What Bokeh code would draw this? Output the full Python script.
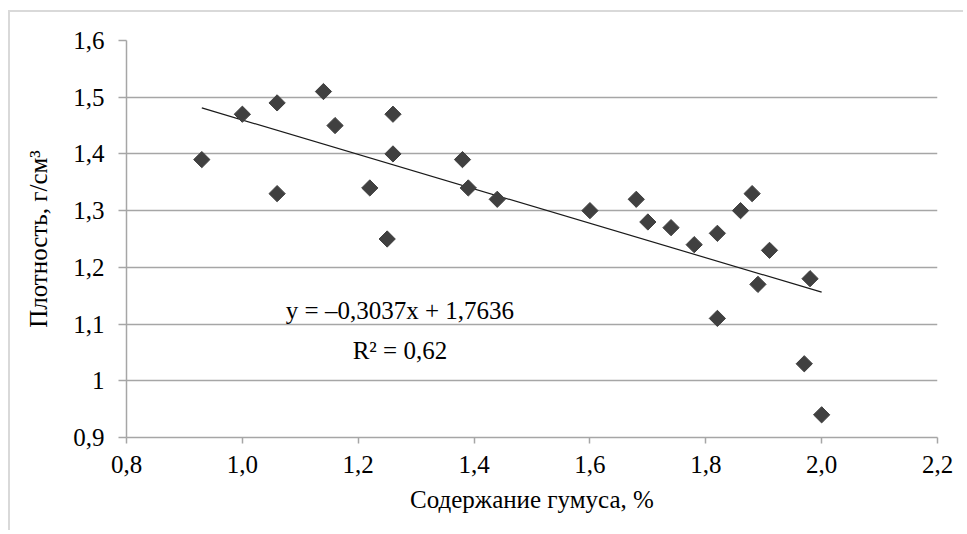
import math
from bokeh.plotting import figure
from bokeh.models import FixedTicker, Label, ColumnDataSource
from bokeh.embed import file_html
from bokeh.resources import INLINE

# ---- data ----
humus = [0.93, 1.00, 1.06, 1.06, 1.14, 1.16, 1.22, 1.25, 1.26, 1.26, 1.38, 1.39, 1.44,
         1.60, 1.68, 1.70, 1.74, 1.78, 1.82, 1.82, 1.86, 1.88, 1.89, 1.91, 1.97, 1.98, 2.00]
density = [1.39, 1.47, 1.49, 1.33, 1.51, 1.45, 1.34, 1.25, 1.47, 1.40, 1.39, 1.34, 1.32,
           1.30, 1.32, 1.28, 1.27, 1.24, 1.26, 1.11, 1.30, 1.33, 1.17, 1.23, 1.03, 1.18, 0.94]
slope = -0.3037
intercept = 1.7636
x_ticks = [0.8, 1.0, 1.2, 1.4, 1.6, 1.8, 2.0, 2.2]
x_tick_labels = ["0,8", "1,0", "1,2", "1,4", "1,6", "1,8", "2,0", "2,2"]
y_ticks = [0.9, 1.0, 1.1, 1.2, 1.3, 1.4, 1.5, 1.6]
y_tick_labels = ["0,9", "1", "1,1", "1,2", "1,3", "1,4", "1,5", "1,6"]
equation_text = "y = \u20130,3037x + 1,7636"
r2_text = "R\u00b2 = 0,62"
x_title = "Содержание гумуса, %"
y_title = "Плотность, г/см\u00b3"

FONT = "Liberation Serif"
FS = "25px"
GRID = "#a6a6a6"

p = figure(width=955, height=520, x_range=(0.8, 2.2), y_range=(0.9, 1.6),
           output_backend="svg", toolbar_location=None,
           min_border_left=116, min_border_right=28, min_border_top=28, min_border_bottom=95)
p.outline_line_color = None
p.background_fill_color = "white"
p.border_fill_color = "white"
p.styles = {"margin-left": "8px", "margin-top": "10px",
            "border-left": "2px solid #d9d9d9", "border-top": "2px solid #d9d9d9"}

p.xgrid.visible = False
p.ygrid.grid_line_color = GRID
p.ygrid.grid_line_width = 1.5
p.ygrid.ticker = FixedTicker(ticks=y_ticks)

p.xaxis.ticker = FixedTicker(ticks=x_ticks)
p.yaxis.ticker = FixedTicker(ticks=y_ticks)
p.xaxis.major_label_overrides = {t: l for t, l in zip(x_ticks, x_tick_labels)}
p.yaxis.major_label_overrides = {t: l for t, l in zip(y_ticks, y_tick_labels)}

for ax in (p.xaxis, p.yaxis):
    ax.axis_line_color = GRID
    ax.axis_line_width = 1.5
    ax.major_tick_line_color = GRID
    ax.major_tick_line_width = 1.5
    ax.minor_tick_line_color = None
    ax.major_tick_in = 0
    ax.major_label_text_font = FONT
    ax.major_label_text_font_size = FS
    ax.major_label_text_color = "black"
    ax.axis_label_text_font = FONT
    ax.axis_label_text_font_size = FS
    ax.axis_label_text_font_style = "normal"
    ax.axis_label_text_color = "black"

p.xaxis.major_tick_out = 6
p.yaxis.major_tick_out = 8
p.xaxis.major_label_standoff = 12
p.yaxis.major_label_standoff = 14
p.xaxis.axis_label = x_title
p.yaxis.axis_label = y_title
p.xaxis.axis_label_standoff = 10
p.yaxis.axis_label_standoff = 18

# trend line
x0, x1 = min(humus), max(humus)
p.line([x0, x1], [slope * x0 + intercept, slope * x1 + intercept],
       line_color="#1a1a1a", line_width=1.2)

src = ColumnDataSource(dict(x=humus, y=density))
p.scatter("x", "y", source=src, marker="square", size=11.5, angle=math.pi / 4,
          fill_color="#404040", line_color="#404040")

p.add_layout(Label(x=1.272, y=1.1235, text=equation_text, text_align="center",
                   text_baseline="alphabetic", text_font=FONT, text_font_size=FS,
                   text_color="black"))
p.add_layout(Label(x=1.272, y=1.053, text=r2_text, text_align="center",
                   text_baseline="alphabetic", text_font=FONT, text_font_size=FS,
                   text_color="black"))

open("out.html", "w").write(file_html(p, INLINE))
